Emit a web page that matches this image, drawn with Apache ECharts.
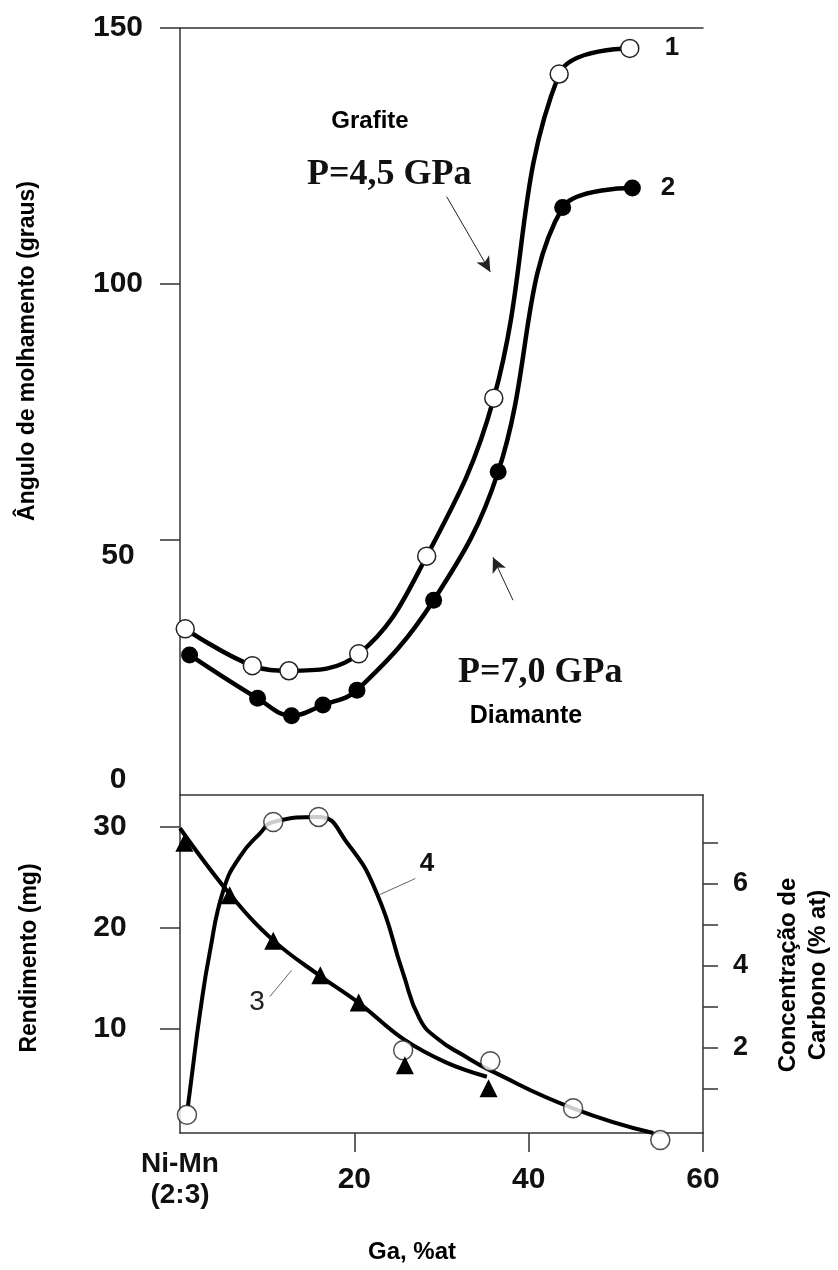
<!DOCTYPE html>
<html><head><meta charset="utf-8">
<script src="https://cdn.jsdelivr.net/npm/echarts@6/dist/echarts.min.js"></script>
<style>html,body{margin:0;padding:0;background:#fff}#c{width:838px;height:1270px}</style>
</head><body><div id="c"></div>
<script>
// ---- Top panel: wetting angle (graus) vs Ga (%at) ----
const curve1 = [[0.6,32.5],[8.3,25.3],[12.5,24.3],[20.5,27.6],[28.3,46.7],[36.0,77.6],[43.5,141],[51.6,146]];
const curve2 = [[1.1,27.4],[8.9,18.9],[12.8,15.5],[16.4,17.6],[20.3,20.5],[29.1,38.1],[36.5,63.2],[43.9,114.9],[51.9,118.7]];
// ---- Bottom panel ----
// curve 4 (open circles) – Rendimento (mg), left axis
const yieldPoints = [[0.8,1.5],[10.7,30.5],[15.9,31.0],[25.6,7.9],[35.6,6.8],[45.1,2.15],[55.1,-1.0]];
const yieldCurve = [[0.9,2.3],[1.3,5.0],[2.3,11.6],[3.4,17.5],[5.0,23.8],[6.9,27.1],[9.2,29.4],[10.7,30.5],[15.9,31.0],[19.2,28.4],[22.6,23.4],[25.6,15.5],[27.5,11.0],[29.6,9.0],[32.5,7.4],[35.6,5.9],[45.1,2.15],[54.3,-0.3]];
// curve 3 (triangles) – Concentração de carbono (% at), right axis
const carbonPoints = [[0.5,7.0],[5.7,5.72],[10.7,4.61],[16.1,3.77],[20.5,3.11],[25.8,1.58],[35.4,1.02]];
const carbonCurve = [[0,7.35],[5.7,5.75],[10.7,4.62],[16.1,3.75],[20.5,3.1],[25.6,2.22],[30.5,1.65],[35.2,1.3]];
// ---- Ticks ----
const angleTicks = [50,100,150];
const angleLabels = [0,50,100,150];
const yieldTicks = [10,20,30];
const carbonTicks = [1,2,3,4,5,6,7];
const carbonLabels = [2,4,6];
const xTicks = [20,40,60];
const xLabels = [0,20,40,60];
// ---- Annotation arrows / leaders (data coords) ----
const arrowTop = [[30.6,117.0],[35.6,102.3]];
const arrowBottom = [[38.2,38.1],[35.9,46.5]];
const leader4 = [[27.0,24.9],[22.9,23.3]];
const leader3 = [[10.3,13.2],[12.8,15.8]];

const FONT = '"Liberation Sans", Arial, Helvetica, sans-serif';
const SERIF = '"Liberation Serif", "Times New Roman", serif';
const axisLineStyle = {color:'#333', width:1.5};
const lblBase = {fontFamily:FONT, fontWeight:'bold', color:'#111'};

const chart = echarts.init(document.getElementById('c'), null, {renderer:'canvas'});
chart.setOption({
  animation:false,
  backgroundColor:'#fff',
  grid:[
    {left:180, right:135, top:28, height:767},
    {left:180, right:135, top:795, height:338}
  ],
  xAxis:[
    {gridIndex:0, type:'value', min:0, max:60, position:'bottom',
     axisLine:{show:true, onZero:false, lineStyle:axisLineStyle}, axisTick:{show:false}, axisLabel:{show:false}, splitLine:{show:false}},
    {gridIndex:0, type:'value', min:0, max:60, position:'top',
     axisLine:{show:true, onZero:false, lineStyle:axisLineStyle}, axisTick:{show:false}, axisLabel:{show:false}, splitLine:{show:false}},
    {gridIndex:1, type:'value', min:0, max:60, position:'bottom',
     axisLine:{show:true, onZero:false, lineStyle:axisLineStyle},
     axisTick:{show:true, length:19, lineStyle:axisLineStyle, customValues:xTicks},
     axisLabel:Object.assign({}, lblBase, {fontSize:30, margin:47, verticalAlign:'middle', customValues:xLabels,
       formatter:v => v===0 ? '{n|Ni-Mn}\n{n|(2:3)}' : String(v),
       rich:{n:{fontFamily:FONT, fontWeight:'bold', fontSize:28, lineHeight:31, color:'#111'}}}),
     splitLine:{show:false}}
  ],
  yAxis:[
    {gridIndex:0, type:'value', min:0, max:150, position:'left',
     axisLine:{show:true, onZero:false, lineStyle:axisLineStyle},
     axisTick:{show:true, length:20, lineStyle:axisLineStyle, customValues:angleTicks},
     axisLabel:Object.assign({}, lblBase, {fontSize:30, margin:62, align:'center', customValues:angleLabels,
       formatter:v => v===0 ? '{a|0}' : (v===50 ? '{b|50}' : String(v)),
       rich:{a:{fontFamily:FONT, fontWeight:'bold', fontSize:30, color:'#111', padding:[0,0,30,0]},
             b:{fontFamily:FONT, fontWeight:'bold', fontSize:30, color:'#111', padding:[32,0,0,0]}}}),
     splitLine:{show:false}},
    {gridIndex:1, type:'value', min:-0.3, max:33.17, position:'left',
     axisLine:{show:true, onZero:false, lineStyle:axisLineStyle},
     axisTick:{show:true, length:20, lineStyle:axisLineStyle, customValues:yieldTicks},
     axisLabel:Object.assign({}, lblBase, {fontSize:30, margin:70, align:'center', customValues:yieldTicks}),
     splitLine:{show:false}},
    {gridIndex:1, type:'value', min:-0.07, max:8.16, position:'right',
     axisLine:{show:true, onZero:false, lineStyle:axisLineStyle},
     axisTick:{show:true, length:15, lineStyle:axisLineStyle, customValues:carbonTicks},
     axisLabel:Object.assign({}, lblBase, {fontSize:27, margin:30, align:'left', customValues:carbonLabels}),
     splitLine:{show:false}}
  ],
  series:[
    {name:'1', type:'line', xAxisIndex:0, yAxisIndex:0, data:curve1, smooth:0.4, clip:false,
     lineStyle:{color:'#000', width:4.5}, symbol:'circle', symbolSize:18, showAllSymbol:true,
     itemStyle:{color:'#fff', borderColor:'#222', borderWidth:1.5},
     markLine:{silent:true, symbol:['none','arrow'], symbolSize:[11,15], label:{show:false},
       lineStyle:{color:'#222', width:1, type:'solid'},
       data:[[{coord:arrowTop[0]},{coord:arrowTop[1]}],[{coord:arrowBottom[0]},{coord:arrowBottom[1]}]]}},
    {name:'2', type:'line', xAxisIndex:0, yAxisIndex:0, data:curve2, smooth:0.4, clip:false,
     lineStyle:{color:'#000', width:4.5}, symbol:'circle', symbolSize:17, showAllSymbol:true,
     itemStyle:{color:'#000', borderColor:'#000', borderWidth:0}},
    {name:'4', type:'line', xAxisIndex:2, yAxisIndex:1, data:yieldCurve, smooth:0.5, clip:false,
     lineStyle:{color:'#000', width:4}, symbol:'none',
     markLine:{silent:true, symbol:['none','none'], label:{show:false},
       lineStyle:{color:'#666', width:1, type:'solid'},
       data:[[{coord:leader4[0]},{coord:leader4[1]}],[{coord:leader3[0]},{coord:leader3[1]}]]}},
    {name:'3', type:'line', xAxisIndex:2, yAxisIndex:2, data:carbonCurve, smooth:0.4, clip:false,
     lineStyle:{color:'#000', width:4}, symbol:'none'},
    {name:'4pts', type:'scatter', xAxisIndex:2, yAxisIndex:1, data:yieldPoints, clip:false, z:5,
     symbol:'circle', symbolSize:19, itemStyle:{color:'#fff', borderColor:'#222', borderWidth:1.5}},
    {name:'3pts', type:'scatter', xAxisIndex:2, yAxisIndex:2, data:carbonPoints, clip:false, z:5,
     symbol:'triangle', symbolSize:[18,18], itemStyle:{color:'#000', opacity:1}}
  ],
  graphic:[
    {type:'text', x:28, y:351, rotation:Math.PI/2, style:{text:'Ângulo de molhamento (graus)', font:'bold 23px '+FONT, fill:'#000', align:'center', verticalAlign:'middle'}},
    {type:'text', x:30, y:958, rotation:Math.PI/2, style:{text:'Rendimento (mg)', font:'bold 23px '+FONT, fill:'#000', align:'center', verticalAlign:'middle'}},
    {type:'text', x:788, y:975, rotation:Math.PI/2, style:{text:'Concentração de', font:'bold 24px '+FONT, fill:'#000', align:'center', verticalAlign:'middle'}},
    {type:'text', x:818, y:975, rotation:Math.PI/2, style:{text:'Carbono (% at)', font:'bold 24px '+FONT, fill:'#000', align:'center', verticalAlign:'middle'}},
    {type:'text', x:412, y:1252, style:{text:'Ga, %at', font:'bold 24px '+FONT, fill:'#000', align:'center', verticalAlign:'middle'}},
    {type:'text', x:370, y:121, style:{text:'Grafite', font:'bold 24px '+FONT, fill:'#000', align:'center', verticalAlign:'middle'}},
    {type:'text', x:307, y:175, style:{text:'P=4,5 GPa', font:'bold 36px '+SERIF, fill:'#111', align:'left', verticalAlign:'middle'}},
    {type:'text', x:458, y:673, style:{text:'P=7,0 GPa', font:'bold 36px '+SERIF, fill:'#111', align:'left', verticalAlign:'middle'}},
    {type:'text', x:526, y:716, style:{text:'Diamante', font:'bold 25px '+FONT, fill:'#000', align:'center', verticalAlign:'middle'}},
    {type:'text', x:672, y:48, style:{text:'1', font:'bold 26px '+FONT, fill:'#111', align:'center', verticalAlign:'middle'}},
    {type:'text', x:668, y:188, style:{text:'2', font:'bold 26px '+FONT, fill:'#111', align:'center', verticalAlign:'middle'}},
    {type:'text', x:427, y:864, style:{text:'4', font:'bold 26px '+FONT, fill:'#111', align:'center', verticalAlign:'middle'}},
    {type:'text', x:257, y:1002, style:{text:'3', font:'28px '+FONT, fill:'#222', align:'center', verticalAlign:'middle'}}
  ]
});
</script></body></html>
